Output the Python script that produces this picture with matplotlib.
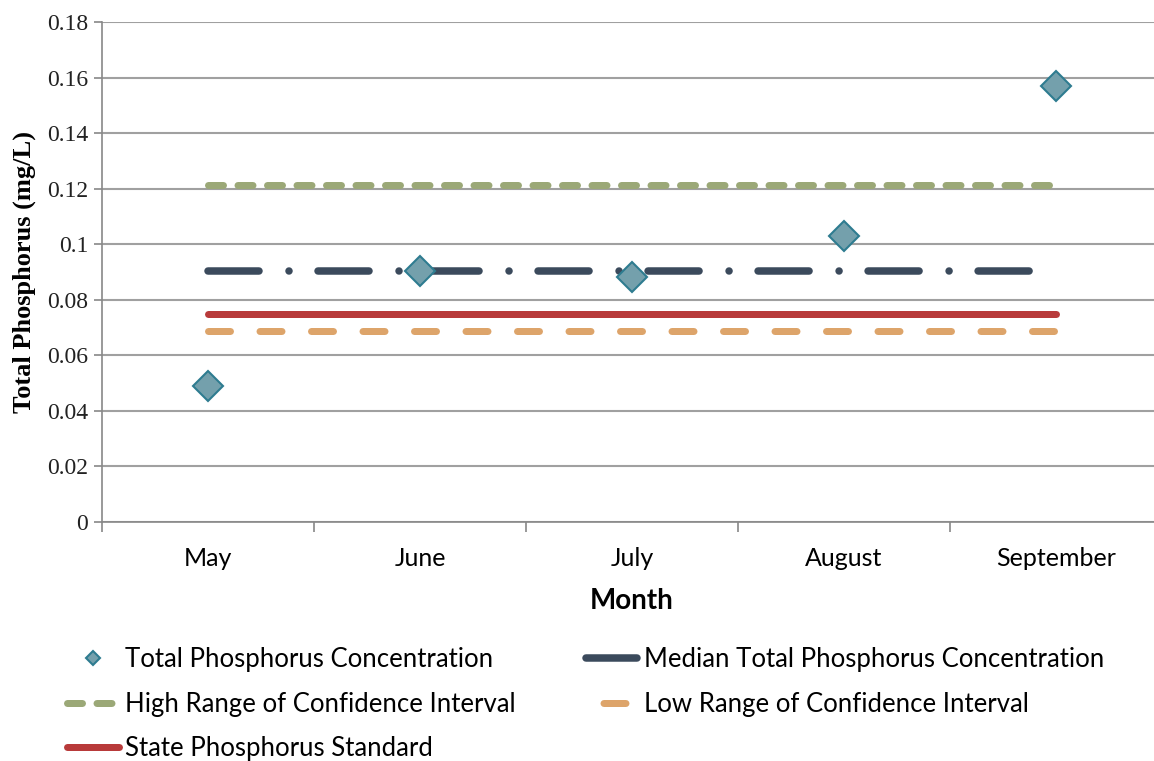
import matplotlib
matplotlib.use('Agg')
import matplotlib.pyplot as plt
from matplotlib.lines import Line2D
import numpy as np

plt.rcParams['lines.scale_dashes'] = False

# data
months = ['May', 'June', 'July', 'August', 'September']
tp_conc = [0.049, 0.0904, 0.0882, 0.103, 0.157]
median_tp = 0.0904
high_ci = 0.1213
low_ci = 0.0688
state_std = 0.075
y_ticks = [0, 0.02, 0.04, 0.06, 0.08, 0.1, 0.12, 0.14, 0.16, 0.18]
y_tick_labels = ['0', '0.02', '0.04', '0.06', '0.08', '0.1', '0.12', '0.14', '0.16', '0.18']

px = 0.72  # one pixel in points at dpi 100

fig = plt.figure(figsize=(11.54, 7.61), dpi=100)
ax = fig.add_axes([102 / 1154, 1 - 522 / 761, 1060 / 1154, 500 / 761])

x = np.arange(len(months))
xl = [x[0], x[-1]]

ax.plot(xl, [high_ci] * 2, color='#9BA877', lw=7 * px, dashes=(15 * px, 14.5 * px),
        dash_capstyle='round', label='High Range of Confidence Interval', zorder=3)
ax.plot([x[0], x[-1] - 0.09], [median_tp] * 2, color='#3B4A5C', lw=7.5 * px,
        dashes=(51 * px, 30 * px, 0.01, 29 * px), dash_capstyle='round',
        label='Median Total Phosphorus Concentration', zorder=3)
ax.plot(xl, [state_std] * 2, color='#B83A3A', lw=7 * px, solid_capstyle='round',
        label='State Phosphorus Standard', zorder=3)
ax.plot(xl, [low_ci] * 2, color='#DDA46A', lw=7 * px, dashes=(22 * px, 29.5 * px),
        dash_capstyle='round', label='Low Range of Confidence Interval', zorder=3)
ax.plot(x, tp_conc, linestyle='none', marker='D', ms=15, mfc='#74A0AC', mec='#2E7C90',
        mew=1.5, label='Total Phosphorus Concentration', zorder=4)

ax.set_xlim(-0.5, 4.5)
ax.set_ylim(0, 0.18)
ax.set_yticks(y_ticks)
ax.set_yticklabels(y_tick_labels, fontfamily='Liberation Serif', fontsize=17, color='#222222')
ax.set_xticks(x)
ax.set_xticklabels(months, fontfamily='Lato', fontsize=18)
ax.set_xticks(np.arange(-0.5, 4.6, 1), minor=True)
ax.tick_params(axis='x', which='major', length=0, pad=18)
ax.tick_params(axis='x', which='minor', length=7, color='#888888', width=1.2)
ax.tick_params(axis='y', length=6, color='#888888', width=1.2, pad=4)
ax.grid(axis='y', color='#A0A0A0', lw=1.5)
ax.set_axisbelow(True)
for s in ['top', 'right']:
    ax.spines[s].set_visible(False)
for s in ['left', 'bottom']:
    ax.spines[s].set_color('#888888')
    ax.spines[s].set_linewidth(1.2)

ax.set_ylabel('Total Phosphorus (mg/L)', fontfamily='Liberation Serif', fontsize=19,
              fontweight='bold', labelpad=8)
ax.set_xlabel('Month', fontfamily='Lato', fontsize=20, fontweight='bold', labelpad=13)

h, l = ax.get_legend_handles_labels()
# legend swatch for the low range shows a single centred dash
h[3] = Line2D([], [], color='#DDA46A', lw=7 * px, dash_capstyle='round',
              linestyle=(44.5 * px, (22 * px, 40 * px)))
order = [4, 0, 2, 1, 3]
fig.legend([h[i] for i in order], [l[i] for i in order], ncol=2,
           loc='upper left', bbox_to_anchor=(57 / 1154, 1 - 637 / 761), frameon=False,
           prop={'family': 'Lato', 'size': 18.5}, handlelength=2.0, handletextpad=0.25,
           columnspacing=2.75, labelspacing=0.76, markerscale=0.5, borderaxespad=0)

fig.savefig('out.png', dpi=100)
